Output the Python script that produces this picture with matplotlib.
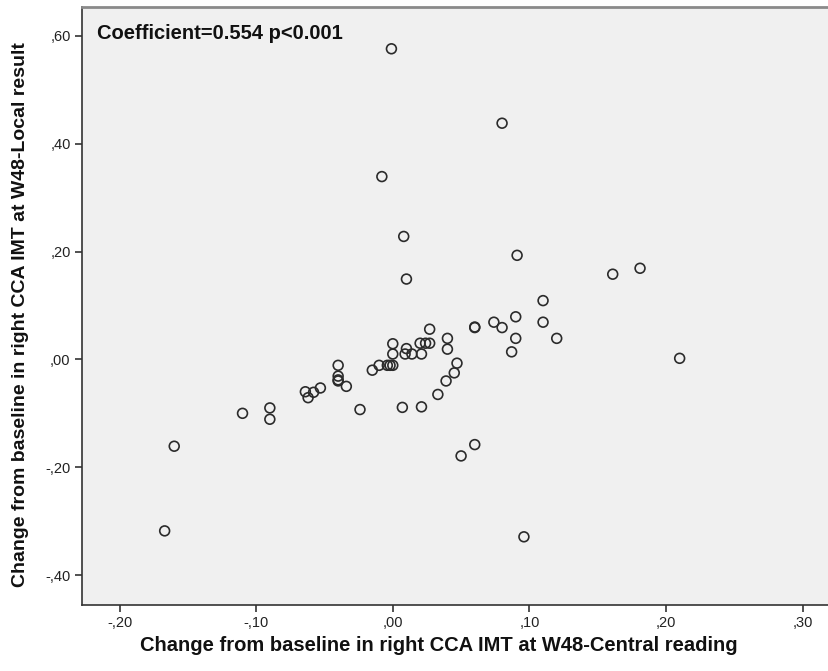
import numpy as np
from matplotlib import pyplot as plt
from matplotlib.ticker import FuncFormatter

# Change from baseline, central reading (x) vs local result (y)
central = [-0.001, 0.080, -0.008, 0.008,
           -0.167, 0.096,
           -0.160, -0.110, -0.090, -0.090, -0.064, -0.062, -0.058, -0.053,
           0.091, 0.010, 0.110, 0.090, 0.110, 0.074, 0.080, 0.060, 0.060,
           0.027, 0.040, 0.090, 0.120, 0.087, 0.000, 0.040,
           0.020, 0.024, 0.027, 0.010, 0.009, 0.014, 0.021, 0.000,
           -0.004, -0.002, 0.000, -0.010, -0.015,
           -0.040, -0.040, -0.040, -0.040, -0.034, -0.024,
           0.007, 0.021, 0.033, 0.039, 0.045, 0.047,
           0.060, 0.050, 0.161, 0.181, 0.210]
local = [0.576, 0.438, 0.339, 0.228,
         -0.318, -0.329,
         -0.161, -0.100, -0.090, -0.111, -0.060, -0.071, -0.061, -0.053,
         0.193, 0.149, 0.109, 0.079, 0.069, 0.069, 0.059, 0.059, 0.060,
         0.056, 0.039, 0.039, 0.039, 0.014, 0.029, 0.019,
         0.030, 0.030, 0.030, 0.020, 0.010, 0.010, 0.010, 0.010,
         -0.011, -0.011, -0.011, -0.011, -0.020,
         -0.011, -0.031, -0.038, -0.040, -0.050, -0.093,
         -0.089, -0.088, -0.065, -0.040, -0.025, -0.007,
         -0.158, -0.179, 0.158, 0.169, 0.002]

x_ticks = [-0.2, -0.1, 0.0, 0.1, 0.2, 0.3]
y_ticks = [-0.4, -0.2, 0.0, 0.2, 0.4, 0.6]
annot = 'Coefficient=0.554 p<0.001'


def spss_fmt(v, pos):
    s = f'{abs(v):.2f}'.replace('0.', ',', 1).replace('.', ',')
    return ('-' if v < -1e-9 else '') + s


if __name__ == "__main__":
    plt.rcParams['font.family'] = ['Liberation Sans', 'DejaVu Sans']

    fig = plt.figure(figsize=(8.29, 6.71), dpi=100)
    ax = fig.add_axes([0.0986, 0.0984, 0.904, 0.8919])
    ax.set_facecolor('#f0f0f0')

    ax.scatter(central, local, s=50, facecolors='none', edgecolors='#2b2b2b',
               linewidths=1.2, zorder=3)

    ax.set_xlim(-0.2277, 0.3209)
    ax.set_ylim(-0.4554, 0.6544)
    ax.set_xticks(x_ticks)
    ax.set_yticks(y_ticks)
    ax.xaxis.set_major_formatter(FuncFormatter(spss_fmt))
    ax.yaxis.set_major_formatter(FuncFormatter(spss_fmt))
    ax.tick_params(direction='out', length=5, width=1.2, color='#333333',
                   labelsize=10.5, labelcolor='#222222', pad=3)

    for side in ['left', 'bottom']:
        ax.spines[side].set_color('#333333')
        ax.spines[side].set_linewidth(1.2)
    ax.spines['top'].set_color('#8a8a8a')
    ax.spines['top'].set_linewidth(2)
    ax.spines['right'].set_visible(False)

    ax.text(0.021, 0.955, annot, transform=ax.transAxes, fontsize=14.5,
            fontweight='bold', va='center', ha='left', color='#111111')

    ax.set_xlabel('Change from baseline in right CCA IMT at W48-Central reading',
                  fontsize=14.5, fontweight='bold', color='#111111')
    ax.set_ylabel('Change from baseline in right CCA IMT at W48-Local result',
                  fontsize=14, fontweight='bold', color='#111111')
    ax.xaxis.set_label_coords(0.477, -0.052)
    ax.yaxis.set_label_coords(-0.071, 0.4846)

    fig.savefig('out.png', dpi=100)
